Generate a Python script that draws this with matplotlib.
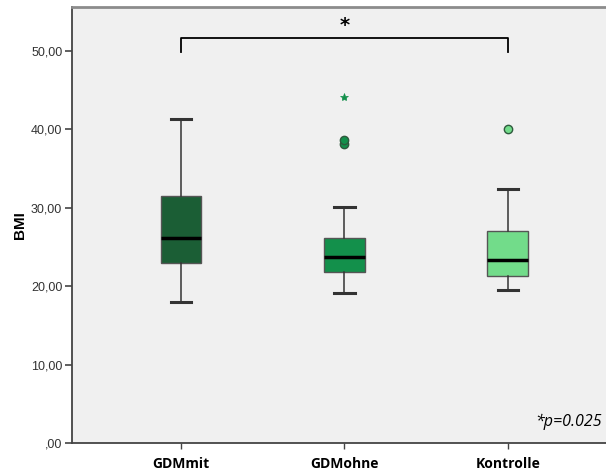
import matplotlib.pyplot as plt
from matplotlib.ticker import FuncFormatter

# BMI per group, read as five-number summaries plus outliers
groups = ["GDMmit", "GDMohne", "Kontrolle"]
whislo = [18.0, 19.1, 19.5]
q1 = [22.9, 21.8, 21.3]
med = [26.2, 23.7, 23.4]
q3 = [31.5, 26.1, 27.0]
whishi = [41.3, 30.1, 32.4]
outliers = [[], [38.1, 38.6], [40.1]]
extremes = [[], [44.1], []]
colors = ["#1b5e35", "#13904b", "#72dc8a"]

p_text = "*p=0.025"

fig = plt.figure(figsize=(6.06, 4.72), dpi=100)
ax = fig.add_axes([72 / 606, 29 / 472, 1 - 72 / 606, (443 - 7) / 472])
ax.set_facecolor("#f0f0f0")

stats = []
for i in range(len(groups)):
    stats.append(dict(label=groups[i], whislo=whislo[i], q1=q1[i], med=med[i],
                      q3=q3[i], whishi=whishi[i], fliers=[]))

pos = [1, 2, 3]
bp = ax.bxp(stats, positions=pos, widths=0.25, patch_artist=True,
            showfliers=False,
            boxprops=dict(edgecolor="#555555", linewidth=1.0),
            medianprops=dict(color="black", linewidth=2.5),
            whiskerprops=dict(color="#333333", linewidth=1.1),
            capprops=dict(color="#333333", linewidth=2.2),
            capwidths=0.125)
for patch, c in zip(bp["boxes"], colors):
    patch.set_facecolor(c)

for x, vals, c in zip(pos, outliers, colors):
    if vals:
        ax.plot([x] * len(vals), vals, "o", ms=6, mfc=c, mec="#2f5a3e", mew=1.0)
for x, vals, c in zip(pos, extremes, colors):
    if vals:
        ax.plot([x] * len(vals), vals, "*", ms=6, color=c, mew=0.5)

# significance bracket between GDMmit and Kontrolle
ax.plot([1, 1, 3, 3], [49.8, 51.7, 51.7, 49.8], color="black", lw=1.3)
ax.text(2, 52.0, "*", ha="center", va="bottom", fontsize=14, fontweight="bold")

ax.text(0.993, 0.03, p_text, transform=ax.transAxes, ha="right", va="bottom",
        fontsize=11.5, style="italic", family="Open Sans")

ax.set_xlim(0.333, 3.6)
ax.set_ylim(0, 55.6)
ax.set_yticks([0, 10, 20, 30, 40, 50])
ax.yaxis.set_major_formatter(FuncFormatter(
    lambda v, _: ",00" if v == 0 else f"{v:.2f}".replace(".", ",")))
ax.set_xticks(pos)
ax.set_xticklabels(groups, fontweight="bold", fontsize=10, family="Open Sans")
for lab in ax.get_yticklabels():
    lab.set_family("Liberation Sans")
    lab.set_fontsize(9)
    lab.set_color("#333333")
ax.tick_params(axis="y", length=5, width=1.2, color="#444444", pad=2)
ax.tick_params(axis="x", length=4, width=1.0, color="#444444", pad=6)
ax.set_ylabel("BMI", fontweight="bold", fontsize=11, family="Liberation Sans",
              labelpad=3)

for side in ["left", "bottom"]:
    ax.spines[side].set_color("#444444")
    ax.spines[side].set_linewidth(1.3)
ax.spines["top"].set_color("#8c8c8c")
ax.spines["top"].set_linewidth(2)
ax.spines["right"].set_visible(False)

fig.savefig("out.png", dpi=100, facecolor="white")
